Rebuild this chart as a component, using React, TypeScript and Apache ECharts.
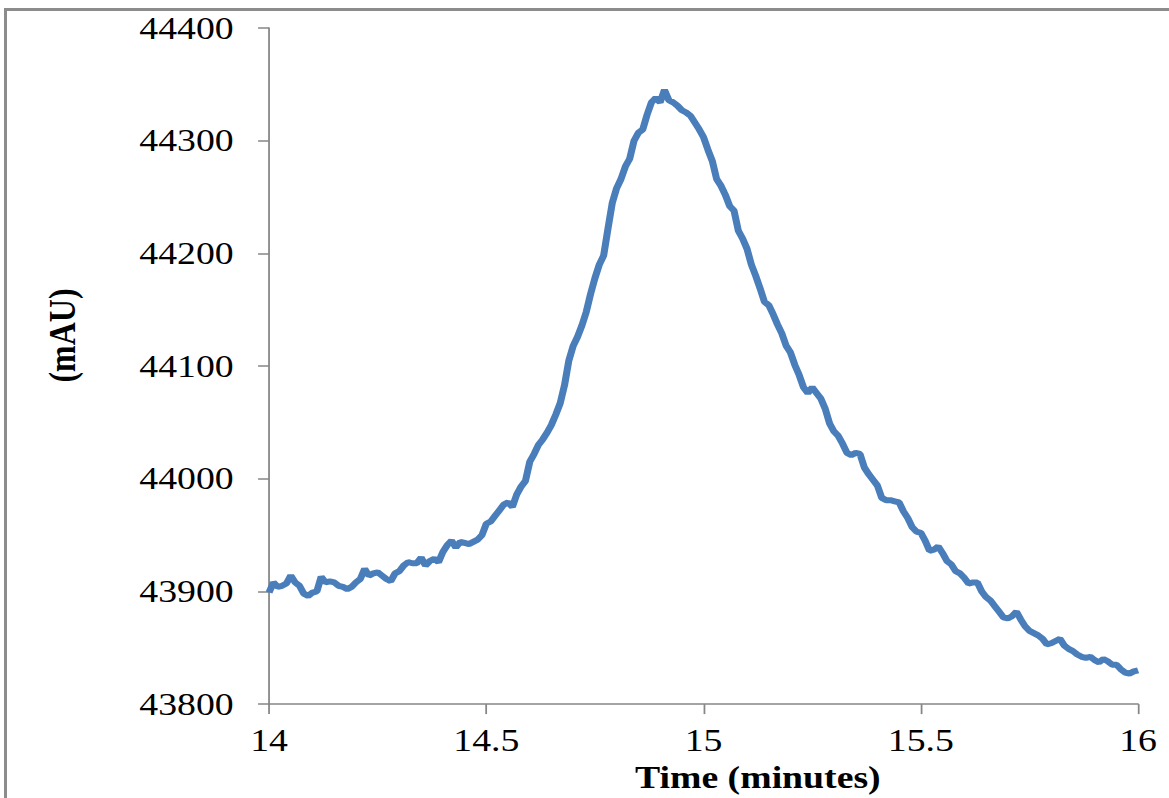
import React, { useEffect, useRef } from "react";
import * as echarts from "echarts";

// Chromatogram signal (mAU), sampled every 0.01 minute from 14.00 to 16.00
const startTime = 14;
const sampleStep = 0.01;
const absorbance: number[] = [
  43899, 43908, 43904, 43905, 43907, 43914, 43908, 43905, 43898, 43896,
  43899, 43900, 43913, 43908, 43909, 43908, 43905, 43904, 43902, 43904,
  43908, 43911, 43920, 43914, 43916, 43917, 43914, 43911, 43909, 43916,
  43918, 43923, 43926, 43925, 43925, 43930, 43923, 43927, 43929, 43926,
  43935, 43941, 43945, 43939, 43944, 43943, 43942, 43944, 43946, 43950,
  43960, 43962, 43967, 43972, 43977, 43979, 43975, 43986, 43993, 43998,
  44015, 44022, 44030, 44035, 44041, 44048, 44057, 44067, 44083, 44105,
  44118, 44126, 44136, 44148, 44164, 44178, 44190, 44198, 44222, 44245,
  44258, 44266, 44277, 44284, 44300, 44307, 44310, 44323, 44334, 44338,
  44334, 44345, 44336, 44334, 44331, 44327, 44325, 44322, 44316, 44310,
  44303, 44292, 44282, 44266, 44260, 44252, 44242, 44238, 44220, 44213,
  44204, 44190, 44180, 44169, 44157, 44154, 44146, 44137, 44129, 44118,
  44112, 44101, 44092, 44081, 44076, 44081, 44076, 44071, 44062, 44049,
  44042, 44038, 44031, 44023, 44021, 44023, 44022, 44010, 44004, 43999,
  43994, 43983, 43981, 43981, 43980, 43979, 43971, 43965, 43957, 43953,
  43952, 43945, 43936, 43937, 43940, 43934, 43927, 43924, 43918, 43916,
  43912, 43907, 43908, 43908, 43900, 43895, 43892, 43887, 43882, 43877,
  43876, 43878, 43882, 43875, 43869, 43865, 43863, 43861, 43858, 43853,
  43854, 43856, 43858, 43852, 43849, 43847, 43844, 43842, 43841, 43842,
  43839, 43837, 43840, 43838, 43835, 43835, 43831, 43828, 43827, 43829,
  43830,
];

const xMin = 14;
const xMax = 16;
const xInterval = 0.5;
const yMin = 43800;
const yMax = 44400;
const yInterval = 100;
const xTitle = "Time (minutes)";
const yTitle = "(mAU)";

const STRETCH = 1.18;
const PAGE_W = 1169;
const PAGE_H = 798;
const FONT = "'Liberation Serif', 'Times New Roman', serif";

export default function App() {
  const ref = useRef<HTMLDivElement | null>(null);

  useEffect(() => {
    if (!ref.current) return;
    const chart = echarts.init(ref.current, undefined, { renderer: "svg" });
    const points = absorbance.map((v, i) => [
      Number((startTime + i * sampleStep).toFixed(2)),
      v,
    ]);
    chart.setOption({
      animation: false,
      backgroundColor: "transparent",
      grid: { left: 228, right: 26.5, top: 28, bottom: 92, containLabel: false },
      xAxis: {
        type: "value",
        min: xMin,
        max: xMax,
        interval: xInterval,
        name: xTitle,
        nameLocation: "middle",
        nameGap: 35,
        nameTextStyle: {
          fontFamily: FONT,
          fontSize: 32,
          fontWeight: "bold",
          color: "#000",
          padding: [0, 0, 0, 92],
        },
        axisLine: { show: true, onZero: false, lineStyle: { color: "#868686", width: 1.5 } },
        axisTick: { show: true, inside: false, length: 10, lineStyle: { color: "#868686", width: 1.5 } },
        axisLabel: {
          fontFamily: FONT,
          fontSize: 32,
          color: "#000",
          margin: 20,
          formatter: (v: number) => String(v),
        },
        splitLine: { show: false },
      },
      yAxis: {
        type: "value",
        min: yMin,
        max: yMax,
        interval: yInterval,
        name: yTitle,
        nameLocation: "middle",
        nameGap: 159,
        nameRotate: 90,
        nameTextStyle: {
          fontFamily: FONT,
          fontSize: 32,
          fontWeight: "bold",
          color: "#000",
          padding: [0, 0, 0, 61],
        },
        axisLine: { show: true, onZero: false, lineStyle: { color: "#868686", width: 1.5 } },
        axisTick: { show: true, inside: false, length: 9.3, lineStyle: { color: "#868686", width: 1.5 } },
        axisLabel: {
          fontFamily: FONT,
          fontSize: 32,
          color: "#000",
          margin: 30,
          formatter: (v: number) => String(v),
        },
        splitLine: { show: false },
      },
      series: [
        {
          type: "line",
          data: points,
          showSymbol: false,
          symbol: "none",
          lineStyle: { color: "#4A7EBB", width: 6 },
          itemStyle: { color: "#4A7EBB" },
        },
      ],
    });
    return () => chart.dispose();
  }, []);

  return (
    <div
      style={{
        position: "fixed",
        left: 0,
        top: 0,
        width: PAGE_W,
        height: PAGE_H,
        overflow: "hidden",
        background: "#fff",
      }}
    >
      <div
        style={{
          position: "absolute",
          left: 4,
          top: 8,
          width: 1300,
          height: 900,
          border: "3px solid #8c8c8c",
          boxSizing: "border-box",
        }}
      />
      <div
        ref={ref}
        style={{
          position: "absolute",
          left: 0,
          top: 0,
          width: PAGE_W / STRETCH,
          height: PAGE_H,
          transform: `scaleX(${STRETCH})`,
          transformOrigin: "0 0",
        }}
      />
    </div>
  );
}
